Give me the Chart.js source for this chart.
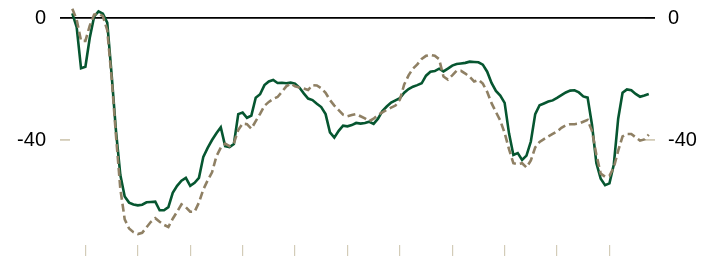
<!DOCTYPE html>
<html>
<head>
<meta charset="utf-8">
<script src="https://cdn.jsdelivr.net/npm/chart.js@4/dist/chart.umd.min.js"></script>
<style>
  html, body { margin: 0; padding: 0; background: #fff; }
  #wrap { width: 714px; height: 256px; position: relative; }
</style>
</head>
<body>
<div id="wrap"><canvas id="chart"></canvas></div>
<script>
// solid green series, one value per period
const solidSeries = [1.5,-3,-16.5,-16,-6.5,0.5,2.2,1.4,-1.5,-18.5,
  -37,-51.5,-58.5,-60.5,-61.1,-61.4,-61.2,-60.4,-60.3,-60.2,
  -63,-63,-62,-57.3,-55,-53.3,-52.4,-55,-54,-52.4,
  -45.5,-42.6,-40,-37.8,-35.8,-42,-42.3,-41.3,-31.5,-31,
  -32.7,-32,-26.1,-25,-22,-20.8,-20.3,-21.3,-21.2,-21.4,
  -21.2,-21.5,-22.8,-24.7,-26.4,-26.9,-28.1,-29.2,-31.5,-37.5,
  -39.2,-37,-35.3,-35.5,-35.1,-34.4,-34.6,-34.4,-34,-34.7,
  -33,-30.5,-29,-27.7,-27,-26.3,-24.5,-23.3,-22.5,-22,
  -21.4,-18.9,-17.6,-17.4,-16.6,-17.5,-16.6,-15.6,-15.1,-14.9,
  -14.7,-14.3,-14.4,-14.5,-15.3,-17.6,-21.3,-23.9,-25.4,-27.8,
  -37.8,-44.9,-44.3,-46.5,-45.1,-40.5,-31.5,-28.6,-28,-27.4,
  -27,-26.2,-25.3,-24.4,-23.8,-23.7,-24.4,-25.7,-26.1,-35,
  -47.5,-52.7,-54.8,-54.2,-48,-33,-24.5,-23.4,-23.7,-24.9,
  -25.8,-25.4,-24.9];

// dashed tan series
const dashedSeries = [3,-0.5,-7.5,-7.5,-2.5,1.1,1.5,0.6,-4,-19.5,
  -38.5,-56,-66,-69,-70.2,-70.8,-70.4,-68.6,-66.8,-65.6,
  -66.8,-67.8,-68.5,-65.8,-63.5,-61.1,-62,-63.5,-63.5,-60.5,
  -56.2,-53.2,-50.6,-45.3,-42.5,-41.2,-42,-41,-36.7,-34.6,
  -34.8,-36.3,-33.8,-31.4,-28.8,-27.5,-26.5,-25.9,-24.2,-22.4,
  -21.5,-22.4,-22.8,-23.1,-23.6,-22,-22.1,-23,-24.5,-26.9,
  -28.7,-30.2,-31.7,-32.2,-31.8,-31.5,-32.2,-32.9,-33.8,-33,
  -31.8,-30.9,-30.1,-29.4,-28.7,-26.8,-21.8,-18.8,-16.6,-15.2,
  -13.4,-12.4,-12.1,-12.4,-13.5,-19.2,-20.2,-18.8,-17.3,-17.3,
  -18.2,-19.3,-20.8,-20.3,-21.5,-24.2,-27.9,-30.8,-33.6,-37.7,
  -43,-47.6,-47.9,-47.6,-49,-46.7,-42.4,-40.6,-39.7,-38.8,
  -38,-37.2,-36,-35.2,-34.8,-34.8,-34.6,-34,-33.4,-37,
  -44.8,-51,-52,-51.7,-49,-43.5,-38.8,-38,-38,-39.1,
  -40.2,-39.8,-38.2];

const yTickValues = [0, -40];
const xTickValues = [3, 15, 27, 39, 51, 63, 75, 87, 99, 111, 123];

const toPoints = arr => arr.map((v, i) => ({ x: i, y: v }));

const GREEN = '#065630';
const TAN = '#8f8064';
const TICK_TAN = '#d3ccb8';

// no extra room for half-labels at the ends
function noPad(s) {
    s.paddingTop = 0;
    s.paddingBottom = 0;
    s.paddingLeft = 0;
    s.paddingRight = 0;
}

function yAxis(position, width) {
    return {
        position: position,
        min: -74.4,
        max: 5.9,
        afterBuildTicks: s => { s.ticks = yTickValues.map(v => ({ value: v })); },
        afterFit: s => { s.width = width; noPad(s); },
        grid: {
            drawOnChartArea: position === 'left',
            color: c => (c.tick && c.tick.value === 0) ? '#000' : 'transparent',
            tickColor: c => (c.tick && c.tick.value === 0) ? '#000' : TICK_TAN,
            lineWidth: 1.8,
            tickLength: 10
        },
        border: { display: false },
        ticks: {
            padding: position === 'left' ? 14 : 13,
            color: '#000',
            font: { family: "'Liberation Sans', Arial, sans-serif", size: 20 },
            callback: v => String(v)
        }
    };
}

new Chart(document.getElementById('chart'), {
    type: 'line',
    data: {
        datasets: [{
            label: 'dashed',
            data: toPoints(dashedSeries),
            borderColor: TAN,
            borderWidth: 2.6,
            borderDash: [8, 4],
            pointRadius: 0,
            tension: 0,
            clip: false
        }, {
            label: 'solid',
            data: toPoints(solidSeries),
            borderColor: GREEN,
            borderWidth: 2.6,
            pointRadius: 0,
            tension: 0,
            clip: false
        }]
    },
    options: {
        responsive: true,
        maintainAspectRatio: false,
        animation: false,
        devicePixelRatio: 1,
        layout: { padding: 0 },
        plugins: {
            legend: { display: false },
            tooltip: { enabled: false }
        },
        scales: {
            x: {
                type: 'linear',
                min: -0.527,
                max: 131.14,
                afterBuildTicks: s => { s.ticks = xTickValues.map(v => ({ value: v })); },
                afterFit: s => { s.height = 11; noPad(s); },
                grid: {
                    drawOnChartArea: false,
                    tickColor: TICK_TAN,
                    tickLength: 11,
                    lineWidth: 1.2
                },
                border: { display: false },
                ticks: { display: false }
            },
            y: yAxis('left', 70),
            y2: yAxis('right', 69)
        }
    }
});
</script>
</body>
</html>
